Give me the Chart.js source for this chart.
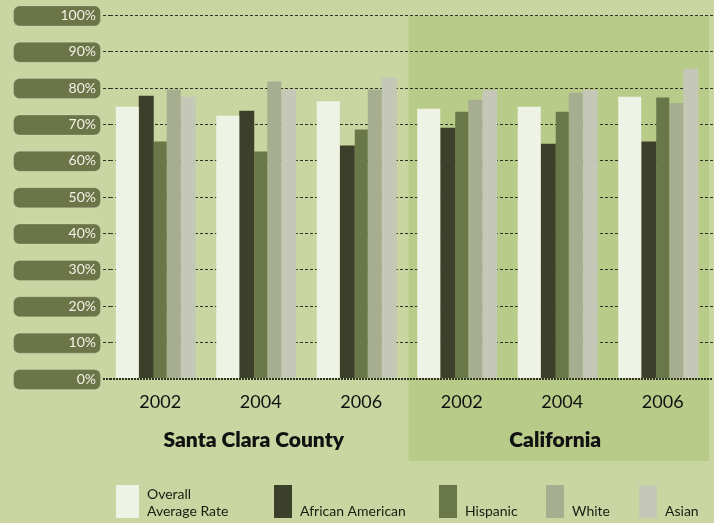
<!DOCTYPE html>
<html>
<head>
<meta charset="utf-8">
<script src="https://cdn.jsdelivr.net/npm/chart.js@4.4.1/dist/chart.umd.min.js"></script>
<style>
  html, body { margin: 0; padding: 0; background: #c9d6a1; }
  #wrap { width: 714px; height: 523px; }
</style>
</head>
<body>
<div id="wrap"><canvas id="myChart" width="714" height="523"></canvas></div>
<script>
// categories
const years = ['2002', '2004', '2006', '2002', '2004', '2006']
const regions = ['Santa Clara County', 'California']
const seriesNames = [['Overall', 'Average Rate'], 'African American', 'Hispanic', 'White', 'Asian']

// graduation rate, % (Santa Clara 02/04/06, California 02/04/06)
const overall = [74.9, 72.4, 76.4, 74.3, 74.9, 77.6]
const africanAmerican = [77.9, 73.8, 64.2, 69.1, 64.7, 65.3]
const hispanic = [65.3, 62.6, 68.6, 73.5, 73.5, 77.4]
const white = [79.6, 81.8, 79.6, 76.8, 78.7, 75.9]
const asian = [77.6, 79.6, 82.9, 79.5, 79.5, 85.3]

const colors = ['#eff3e5', '#3c3f29', '#6a7748', '#a6ae8f', '#c5c8b7']
// uneven bar widths like the original (overall bar is wider)
const catPct = [0.821, 0.697, 0.8, 0.672, 0.697]
const barPct = [1.394, 1.071, 0.809, 1.037, 1.071]

const FONT = 'Lato, "Open Sans", sans-serif'

const series = [overall, africanAmerican, hispanic, white, asian]

function roundRect(ctx, x, y, w, h, r) {
  ctx.beginPath()
  ctx.moveTo(x + r, y)
  ctx.arcTo(x + w, y, x + w, y + h, r)
  ctx.arcTo(x + w, y + h, x, y + h, r)
  ctx.arcTo(x, y + h, x, y, r)
  ctx.arcTo(x, y, x + w, y, r)
  ctx.closePath()
}

const backdrop = {
  id: 'backdrop',
  beforeDraw(chart) {
    const ctx = chart.ctx
    const xs = chart.scales.x
    const ys = chart.scales.y
    ctx.save()
    ctx.fillStyle = '#c9d6a1'
    ctx.fillRect(0, 0, chart.width, chart.height)

    // California panel
    const left = (xs.getPixelForValue(2) + xs.getPixelForValue(3)) / 2 - 3
    const top = ys.getPixelForValue(100)
    ctx.fillStyle = '#b9cb89'
    ctx.fillRect(left, top, chart.chartArea.right - 4 - left, chart.chartArea.bottom + 82 - top)

    // pill behind each y label
    ys.ticks.forEach((t, i) => {
      const y = ys.getPixelForTick(i)
      roundRect(ctx, 13.5, y - 9.5, 87, 20, 6)
      ctx.fillStyle = '#6b7548'
      ctx.fill()
      ctx.strokeStyle = 'rgba(255,255,255,0.18)'
      ctx.lineWidth = 1
      ctx.stroke()
    })
    ctx.restore()
  }
}

const legendBoxes = [[116, 23], [274, 18], [439, 18], [546, 18], [639, 18]]

const customLegend = {
  id: 'customLegend',
  afterDraw(chart) {
    const ctx = chart.ctx
    ctx.save()
    ctx.font = '14px ' + FONT
    ctx.textBaseline = 'alphabetic'
    chart.data.datasets.forEach((ds, i) => {
      const [x, w] = legendBoxes[i]
      ctx.fillStyle = ds.backgroundColor
      ctx.fillRect(x, 485, w, 33)
      ctx.fillStyle = '#1b1b12'
      const lines = Array.isArray(ds.label) ? ds.label : [ds.label]
      lines.forEach((line, j) => {
        ctx.fillText(line, x + w + 8, 516 - (lines.length - 1 - j) * 17.5)
      })
    })
    ctx.restore()
  }
}

const ctx = document.getElementById('myChart')

new Chart(ctx, {
  type: 'bar',
  data: {
    labels: years,
    datasets: series.map((vals, i) => ({
      label: seriesNames[i],
      data: vals,
      backgroundColor: colors[i],
      borderWidth: 0,
      categoryPercentage: catPct[i],
      barPercentage: barPct[i]
    }))
  },
  options: {
    responsive: false,
    animation: false,
    layout: { padding: { top: 14, right: 1, bottom: 58, left: 0 } },
    plugins: {
      legend: { display: false },
      tooltip: { enabled: false },
      title: { display: false }
    },
    scales: {
      x: {
        position: 'bottom',
        grid: { display: false, drawTicks: false },
        border: { display: false },
        ticks: { color: '#111', font: { family: FONT, size: 18 }, padding: 12, maxRotation: 0 },
        afterFit: (s) => { s.height = 40 }
      },
      x2: {
        type: 'category',
        position: 'bottom',
        labels: regions,
        grid: { display: false, drawTicks: false },
        border: { display: false },
        ticks: { color: '#111', font: { family: FONT, size: 21, weight: '800' }, padding: 9, labelOffset: -7 },
        afterFit: (s) => { s.height = 46 }
      },
      y: {
        min: 0,
        max: 100,
        ticks: {
          stepSize: 10,
          color: '#f2f2e6',
          font: { family: FONT, size: 14 },
          padding: 7,
          callback: (v) => v + '%'
        },
        grid: {
          color: '#2e3222',
          lineWidth: (c) => c.tick && c.tick.value === 0 ? 2 : 1,
          tickLength: 7,
          tickColor: '#2e3222',
          tickWidth: (c) => c.tick && c.tick.value === 0 ? 2 : 1,
          tickBorderDash: (c) => c.tick && c.tick.value === 0 ? [2, 1] : [3, 2]
        },
        border: {
          display: false,
          dash: (c) => c.tick && c.tick.value === 0 ? [2, 1] : [3, 2]
        },
        afterFit: (s) => { s.width = 110 }
      }
    }
  },
  plugins: [backdrop, customLegend]
});
</script>
</body>
</html>
